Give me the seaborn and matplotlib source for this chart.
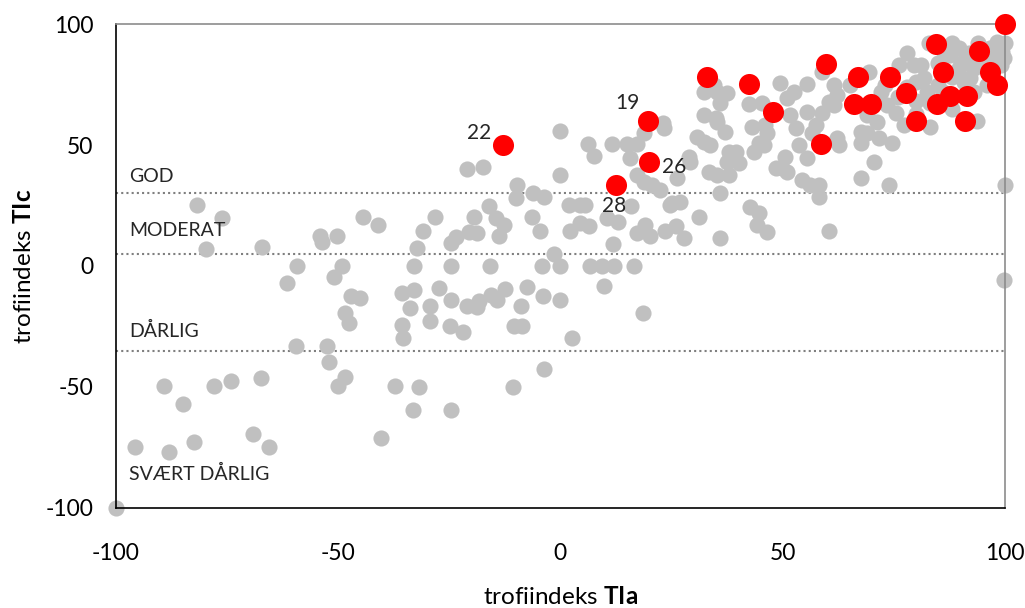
import numpy as np
import pandas as pd
import matplotlib
matplotlib.use("Agg")
import matplotlib.pyplot as plt
import seaborn as sns

# ---------------- data ----------------
grey_x = [-100, -95.6, -89.1, -88, -84.9, -82.5, -81.7, -79.7, -78, -76.1, -74.2, -69.2, -67.3, -67.1,
          -65.6, -61.5, -59.2, -59.4, -54.1, -53.6, -52.5, -52, -51, -50.2, -50, -49.1, -48.5, -48.4,
          -47.6, -47.1, -45, -44.5, -41.1, -40.3, -37.3, -35.6, -33, -33.9, -35.6, -35.4, -33.1, -33,
          -32.2, -31.7, -30.9, -29.4, -29.4, -28.1, -27.4, -24.7, -24.7, -24.9, -24.6, -24.6, -23.4,
          -21.9, -21.1, -21.1, -20.6, -19.5, -18.7, -18.7, -18.4, -17.4, -16.1, -15.9, -15.7, -14.6,
          -14.2, -13.9, -12.8, -12.4, -10.6, -10.5, -9.7, -9.9, -8.6, -8.8, -7.5, -6.5, -6.1, -4.5,
          -4.1, -4, -3.8, -3.8, -1.5, 0, 0, 0, 0, 1.9, 2.2, 2.6, 4.5, 4.5, 5.6, 6.4, 6.6, 6.1, 7.5,
          9.4, 9.9, 10.5, 11.6, 11.9, 12, 13, 15, 15.7, 15.9, 16.5, 17.2, 17.3, 17.3, 18.6, 18.7,
          18.7, 19.1, 20.1, 20.6, 22.5, 23.1, 23.2, 23.6, 24.7, 25.1, 25.9, 26.3, 27, 27.7, 28.9,
          29.2, 30.7, 31.1, 32.2, 32.2, 32.2, 33.4, 33.7, 34.5, 34.9, 35.3, 35.3, 35.3, 36, 36, 35.8,
          37.1, 37.5, 37.5, 37.9, 37.9, 39.4, 40.1, 42.4, 42.7, 43.1, 43.5, 44.6, 44.6, 44.3, 45.4,
          45.7, 46.1, 46.5, 46.5, 48.4, 49.5, 49.9, 50.6, 51, 51, 51.7, 52.5, 52.9, 53.6, 54.4, 55.5,
          55.5, 55.5, 56.2, 56.6, 57.4, 58.1, 58.1, 58.9, 58.9, 60.4, 60.4, 61.5, 61.5, 62.2, 62.2,
          62.6, 65.2, 67.5, 67.5, 67.7, 69, 69, 69.4, 70.5, 71.2, 71.6, 72, 73.5, 74, 74.6, 75.4,
          76.1, 77.2, 78, 79.5, 79.9, 81, 81.7, 82.5, 82.9, 83.2, 83.2, 86.2, 87.7, 89.6, 89.6, 90.7,
          91.5, 92.2, 93, 93.7, 96, 96.7, 97.1, 98.2, 99, 99.4, 99.7, 99.9, 99.7,
          80, 78, 85, 88, 85, 90, 93, 95, 92, 88, 94, 86, 76, 73, 100, 97, 88, 80]
grey_y = [-100, -74.7, -49.6, -77, -57, -72.9, 25.2, 7, -49.6, 20, -47.4, -69.6, -46.3, 8,
          -74.7, -6.9, 0, -33, 12.4, 10, -33, -39.8, -4.4, 12.4, -49.6, 0, -45.7, -19.6,
          -23.4, -12.3, -13.1, 20.1, 16.8, -71, -49.6, -11, -9.9, -17.5, -24.4, -29.9, -59.5, 0,
          7.6, -49.9, 14.5, -16.5, -22.7, 20.1, -9, 0, 9.4, -24.8, -14, -59.5, 12.1,
          -27.1, 40.2, -16.5, 14.2, 20.1, 13.5, -16.8, -14.5, 41, 24.8, 0, -12, 19.7,
          -14, 12.4, 16.9, -9.6, -49.9, -24.8, 33.5, 28, -24.8, -16.5, -8.5, 20.4, 30, 14.5,
          0, -12.3, 28.6, -42.7, 5, 0, -14, 37.6, 55.9, 25.2, 14.5, -29.9, 25.2, 17.6, 25.2, 16.5, 0, 50.3, 45.5,
          0, -8.1, 19.7, 50.3, 9.1, 0, 18.3, 50.3, 44.5, 24.8, 0, 13.5, 50.3, 37.6, -19.6, 54.8,
          34.8, 16.9, 12.4, 33.5, 31.4, 59.2, 56.9, 14.6, 25.2, 25.9, 16.5, 36.2, 26.6, 11.4, 45.2,
          43.1, 53.4, 20.4, 51.4, 62.4, 72, 39, 50, 74.8, 61, 72, 59.6, 37.6, 67.2, 30, 11.4,
          55.5, 71.4, 43.1, 47.2, 37.6, 47.2, 42.4, 66.8, 24.5, 57.6, 47.2, 50.7, 21.8, 16.9, 67.2,
          50, 58.3, 54.8, 14.2, 40.4, 75.5, 40.4, 45.2, 69.3, 39, 62.4, 72, 56.9, 50, 35.5, 44.5,
          75.1, 63.8, 33.5, 54.8, 58.3, 33.5, 28.6, 63.1, 80.3, 14.5, 67.9, 74.8, 66.5, 70.7, 52.8,
          50, 74.8, 55.5, 50.7, 36.2, 54.8, 62.4, 80.3, 43.1, 59.6, 52.8, 72, 66.5, 33.5, 50.7, 63.1,
          83.1, 58.3, 87.9, 83.1, 76.2, 83.1, 77.6, 72, 92, 67.2, 57.6, 88.6, 87.2, 90, 81.7, 76.2,
          85.8, 77.6, 72, 59.9, 74.8, 90, 84.4, 92.7, 83.1, 88.6, 85.8, 33.5, -5.8,
          68, 74, 75, 78, 84, 84, 82, 85, 88, 92, 92, 72, 70, 75, 92, 80, 65, 63]

red_x = [-12.9, 19.7, 19.9, 12.6, 33, 42.4, 59.8, 47.8, 58.5, 67, 66, 69.9, 74.1, 77.8, 79.9,
         84.5, 86.1, 84.7, 87.6, 91.5, 90.9, 94.1, 96.6, 98.2, 100]
red_y = [50, 60, 43.1, 33.5, 78, 75.1, 83.5, 63.8, 50.3, 78, 66.8, 66.8, 78, 71.6, 59.9,
         91.7, 80, 66.8, 70.2, 70.2, 59.9, 89, 80.3, 74.8, 100]
red_labels = ["22", "19", "26", "28"] + [""] * 21

class_limits = [30, 5, -35]
class_names = ["GOD", "MODERAT", "DÅRLIG", "SVÆRT DÅRLIG"]
class_label_y = [37, 14.5, -27, -86]

ticks = [-100, -50, 0, 50, 100]

# ---------------- style ----------------
sns.set_theme(style="white")
plt.rcParams["font.family"] = ["Lato", "DejaVu Sans"]
plt.rcParams["mathtext.fontset"] = "custom"
plt.rcParams["mathtext.rm"] = "Lato"
plt.rcParams["mathtext.bf"] = "Lato:bold"

fig = plt.figure(figsize=(10.25, 6.08), dpi=100)
ax = fig.add_axes([0.113, 0.1645, 0.8675, 0.796])

grey_df = pd.DataFrame({"TIa": grey_x, "TIc": grey_y})
red_df = pd.DataFrame({"TIa": red_x, "TIc": red_y, "lab": red_labels})

for yv in class_limits:
    ax.plot([-100, 100], [yv, yv], color="#7f7f7f", linestyle=(0, (1, 1.5)), linewidth=1.5, zorder=1)

sns.scatterplot(data=grey_df, x="TIa", y="TIc", color="#c0c0c0", s=135, linewidth=0,
                ax=ax, clip_on=False, zorder=2)
sns.scatterplot(data=red_df, x="TIa", y="TIc", color="#ff0000", s=230, linewidth=0,
                ax=ax, clip_on=False, zorder=3)

offsets = {"22": (-17, 9), "19": (-15, 13), "26": (18, -4), "28": (-2, -15)}
for _, r in red_df.iterrows():
    if r["lab"]:
        ax.annotate(r["lab"], (r["TIa"], r["TIc"]), xytext=offsets[r["lab"]],
                    textcoords="offset points", ha="center", va="center", fontsize=15)

for name, yv in zip(class_names, class_label_y):
    ax.text(-97, yv, name, ha="left", va="center", fontsize=14)

ax.set_xlim(-100, 100)
ax.set_ylim(-100, 100)
ax.set_xticks(ticks)
ax.set_yticks(ticks)
ax.tick_params(axis="both", direction="out", length=7, width=1, color="black",
               labelsize=16.5, labelcolor="black")
ax.tick_params(axis="x", pad=18)
ax.tick_params(axis="y", pad=9)
ax.set_xticklabels([str(t) for t in ticks])
ax.set_yticklabels([str(t) for t in ticks])

for side in ["left", "bottom"]:
    ax.spines[side].set_color("black")
    ax.spines[side].set_linewidth(1.2)
for side in ["top", "right"]:
    ax.spines[side].set_color("#8c8c8c")
    ax.spines[side].set_linewidth(1.2)

ax.set_xlabel(r"trofiindeks $\bf{TIa}$", fontsize=17.5, labelpad=16, color="black")
ax.set_ylabel(r"trofiindeks $\bf{TIc}$", fontsize=17.5, labelpad=8, color="black")
ax.grid(False)

fig.savefig("out.png", dpi=100)
